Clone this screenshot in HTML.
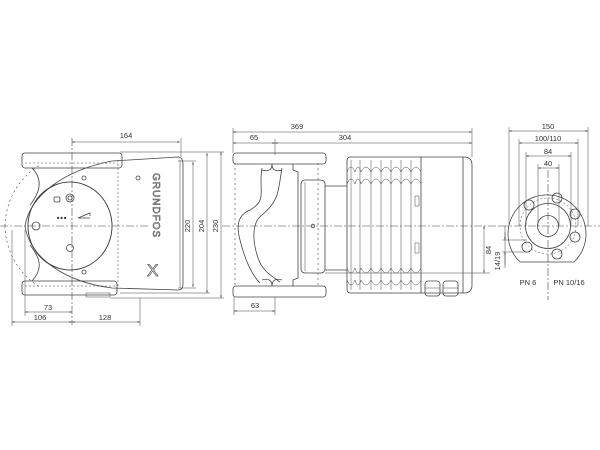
<!DOCTYPE html>
<html><head><meta charset="utf-8"><style>
html,body{margin:0;padding:0;background:#fff;}
svg{display:block;}
text{font-family:"Liberation Sans",sans-serif;font-size:7.5px;fill:#333;}
</style></head><body>
<svg width="600" height="450" viewBox="0 0 600 450" xmlns="http://www.w3.org/2000/svg">
<defs>
<marker id="a" viewBox="0 0 10 10" refX="10" refY="5" markerWidth="5" markerHeight="5" orient="auto-start-reverse"><path d="M0,2 L10,5 L0,8 z" fill="#333"/></marker>
</defs>
<g fill="none" stroke="#444" stroke-width="0.8">
<!-- center lines -->
<line x1="0" y1="226" x2="148" y2="226" stroke-dasharray="8,2,2,2" stroke-width="0.6"/>
<line x1="222" y1="226" x2="500" y2="226" stroke-dasharray="8,2,2,2" stroke-width="0.6"/>
<line x1="500" y1="226" x2="600" y2="226" stroke-dasharray="8,2,2,2" stroke-width="0.6"/>
<line x1="72" y1="138" x2="72" y2="325" stroke-dasharray="8,2,2,2" stroke-width="0.6"/>
<line x1="548" y1="170" x2="548" y2="300" stroke-dasharray="8,2,2,2" stroke-width="0.6"/>

<!-- VIEW 1 -->
<path d="M5,226 A70,72 0 0 1 40,165" stroke-dasharray="2,3" stroke-width="0.6"/>
<path d="M5,226 A70,72 0 0 0 40,287" stroke-dasharray="2,3" stroke-width="0.6"/>
<rect x="22" y="153" width="100" height="15" rx="3"/>
<line x1="25" y1="163" x2="118" y2="163" stroke-dasharray="2,2" stroke-width="0.5"/>
<rect x="22" y="281" width="95" height="14" rx="3"/>
<line x1="25" y1="286" x2="115" y2="286" stroke-dasharray="2,2" stroke-width="0.5"/>
<path d="M32,168 C42,178 42,190 30,205 M32,281 C42,270 42,260 30,245"/>
<!-- housing -->
<path d="M178,157 L112,161 C65,170 30,195 25,226 C30,258 65,282 112,288 L178,290 C182,290 183,287 183,284 L183,164 C183,160 181,157 178,157 Z"/>
<path d="M180,160 L180,288" stroke-width="0.5"/>
<line x1="118" y1="160" x2="118" y2="288" stroke-dasharray="2,2" stroke-width="0.5"/>
<path d="M70,182 A42,44 0 0 1 70,270 L70,270 C50,270 28,252 28,226 C28,200 50,182 70,182" />
<ellipse cx="70" cy="226" rx="42" ry="44"/>
<circle cx="36" cy="226" r="4"/>
<circle cx="70" cy="198" r="4"/><circle cx="70" cy="198" r="2"/>
<rect x="54" y="197" width="6" height="5" rx="1.5"/>
<circle cx="70" cy="248" r="3.5"/>
<circle cx="84" cy="178" r="2"/><circle cx="138" cy="178" r="2"/><circle cx="84" cy="272" r="2"/>
<path d="M78,218 L90,213 L90,216 M78,218 L90,218"/>
<path d="M86,293 L110,293 L110,297 L86,297 Z" stroke-width="0.5"/>
<!-- dims view1 -->
<line x1="72" y1="142" x2="180" y2="142" marker-start="url(#a)" marker-end="url(#a)" stroke-width="0.5"/>
<line x1="181" y1="138" x2="181" y2="157" stroke-width="0.5"/>
<line x1="193" y1="162" x2="193" y2="287" marker-start="url(#a)" marker-end="url(#a)" stroke-width="0.5"/>
<line x1="207" y1="153" x2="207" y2="293" marker-start="url(#a)" marker-end="url(#a)" stroke-width="0.5"/>
<line x1="221" y1="152" x2="221" y2="298" marker-start="url(#a)" marker-end="url(#a)" stroke-width="0.5"/>
<line x1="120" y1="152" x2="224" y2="152" stroke-width="0.5"/>
<line x1="178" y1="161" x2="196" y2="161" stroke-width="0.5"/>
<line x1="178" y1="288" x2="196" y2="288" stroke-width="0.5"/>
<line x1="120" y1="293" x2="210" y2="293" stroke-width="0.5"/>
<line x1="110" y1="298" x2="224" y2="298" stroke-width="0.5"/>
<line x1="25" y1="230" x2="25" y2="316" stroke-width="0.5"/>
<line x1="12" y1="230" x2="12" y2="326" stroke-width="0.5"/>
<line x1="140" y1="298" x2="140" y2="326" stroke-width="0.5"/>
<line x1="25" y1="312" x2="72" y2="312" marker-start="url(#a)" marker-end="url(#a)" stroke-width="0.5"/>
<line x1="12" y1="322" x2="72" y2="322" marker-start="url(#a)" marker-end="url(#a)" stroke-width="0.5"/>
<line x1="72" y1="322" x2="140" y2="322" marker-start="url(#a)" marker-end="url(#a)" stroke-width="0.5"/>

<!-- VIEW 2 -->
<line x1="235" y1="163" x2="235" y2="287" stroke-dasharray="2,3" stroke-width="0.6"/>
<line x1="318" y1="163" x2="318" y2="287" stroke-dasharray="2,3" stroke-width="0.6"/>
<rect x="233" y="153" width="93" height="11" rx="3"/>
<rect x="233" y="286" width="93" height="11" rx="3"/>
<path d="M272,164 C272,170 276,172 282,170 M272,164 C272,170 268,172 262,170"/>
<path d="M272,286 C272,280 276,278 282,280 M272,286 C272,280 268,278 262,280"/>
<path d="M262,168 C258,190 268,200 250,210 C238,215 236,225 240,240 C245,260 252,275 260,283"/>
<path d="M282,168 C278,190 280,200 262,215 C252,222 252,240 258,258 C262,270 270,275 280,282"/>
<path d="M293,164 L293,170 L298,172 L298,278 L293,280 L293,286"/>
<rect x="301" y="180" width="24" height="93" rx="4"/>
<line x1="305" y1="182" x2="305" y2="271" stroke-width="0.5"/>
<circle cx="313" cy="226" r="1.8"/>
<line x1="325" y1="186" x2="347" y2="186"/>
<line x1="325" y1="270" x2="347" y2="270"/>
<!-- motor -->
<path d="M350,157 L464,157 C470,157 472,160 472,165 L472,285 C472,290 470,293 464,293 L350,293 C348,293 347,291 347,289 L347,161 C347,159 348,157 350,157 Z"/>
<line x1="463" y1="157" x2="463" y2="293"/>
<line x1="421" y1="157" x2="421" y2="293"/>
<g stroke-width="0.5">
<path d="M351,160 L351,290 M360,160 L360,290 M371,160 L371,290 M381,160 L381,290 M391,160 L391,290 M401,160 L401,290 M411,160 L411,290"/>
<path d="M347,172 Q351,162 355,172 Q358,162 361,172 Q366,162 371,172 Q376,162 381,172 Q386,162 391,172 Q396,162 401,172 Q406,162 411,172 Q416,162 421,172"/>
<path d="M347,184 Q351,174 355,184 Q358,174 361,184 Q366,174 371,184 Q376,174 381,184 Q386,174 391,184 Q396,174 401,184 Q406,174 411,184 Q416,174 421,184"/>
<path d="M347,268 Q351,278 355,268 Q358,278 361,268 Q366,278 371,268 Q376,278 381,268 Q386,278 391,268 Q396,278 401,268 Q406,278 411,268 Q416,278 421,268"/>
<path d="M347,280 Q351,290 355,280 Q358,290 361,280 Q366,290 371,280 Q376,290 381,280 Q386,290 391,280 Q396,290 401,280 Q406,290 411,280 Q416,290 421,280"/>
<path d="M415,196 L415,206 L419,206 L419,196 Z M415,243 L415,253 L419,253 L419,243 Z"/>
</g>
<rect x="425" y="281" width="15" height="15" rx="3"/>
<rect x="443" y="281" width="15" height="15" rx="3"/>
<line x1="425" y1="288" x2="440" y2="288" stroke-width="0.5"/>
<line x1="443" y1="288" x2="458" y2="288" stroke-width="0.5"/>
<!-- dims view2 -->
<line x1="233" y1="132" x2="472" y2="132" marker-start="url(#a)" marker-end="url(#a)" stroke-width="0.5"/>
<line x1="233" y1="143" x2="275" y2="143" marker-start="url(#a)" marker-end="url(#a)" stroke-width="0.5"/>
<line x1="275" y1="143" x2="472" y2="143" marker-start="url(#a)" marker-end="url(#a)" stroke-width="0.5"/>
<line x1="233" y1="128" x2="233" y2="153" stroke-width="0.5"/>
<line x1="472" y1="128" x2="472" y2="157" stroke-width="0.5"/>
<line x1="275" y1="139" x2="275" y2="155" stroke-width="0.5"/>
<line x1="234" y1="297" x2="234" y2="315" stroke-width="0.5"/>
<line x1="275" y1="297" x2="275" y2="315" stroke-width="0.5"/>
<line x1="234" y1="311" x2="275" y2="311" marker-start="url(#a)" marker-end="url(#a)" stroke-width="0.5"/>
<line x1="325" y1="273" x2="490" y2="273" stroke-width="0.5"/>
<line x1="484" y1="226" x2="484" y2="273" marker-start="url(#a)" marker-end="url(#a)" stroke-width="0.5"/>

<!-- VIEW 3 -->
<path d="M520,262 A39,39 0 1 1 574,262 Z"/>
<circle cx="548" cy="226" r="22.5"/>
<circle cx="548" cy="226" r="10.5"/>
<circle cx="548" cy="226" r="28" stroke-dasharray="2,2" stroke-width="0.5"/>
<circle cx="557" cy="198" r="5"/><circle cx="575" cy="214" r="5"/><circle cx="575" cy="237" r="5"/>
<circle cx="557" cy="254" r="5"/><circle cx="527" cy="247" r="5"/><circle cx="529" cy="205" r="5"/>
<line x1="509" y1="131" x2="588" y2="131" marker-start="url(#a)" marker-end="url(#a)" stroke-width="0.5"/>
<line x1="519" y1="143" x2="578" y2="143" marker-start="url(#a)" marker-end="url(#a)" stroke-width="0.5"/>
<line x1="526" y1="156" x2="571" y2="156" marker-start="url(#a)" marker-end="url(#a)" stroke-width="0.5"/>
<line x1="538" y1="168" x2="559" y2="168" marker-start="url(#a)" marker-end="url(#a)" stroke-width="0.5"/>
<g stroke-width="0.5">
<line x1="509" y1="127" x2="509" y2="226"/><line x1="588" y1="127" x2="588" y2="226"/>
<line x1="519" y1="139" x2="519" y2="226"/><line x1="578" y1="139" x2="578" y2="226"/>
<line x1="526" y1="152" x2="526" y2="226"/><line x1="571" y1="152" x2="571" y2="226"/>
<line x1="538" y1="164" x2="538" y2="226"/><line x1="559" y1="164" x2="559" y2="226"/>
<line x1="505" y1="226" x2="505" y2="268"/>
<line x1="505" y1="232" x2="505" y2="240" marker-end="url(#a)"/>
<line x1="505" y1="265" x2="505" y2="252" marker-end="url(#a)"/>
<line x1="502" y1="240" x2="527" y2="240"/><line x1="502" y1="252" x2="527" y2="252"/>
</g>
</g>
<!-- texts -->
<text x="126" y="138" text-anchor="middle">164</text>
<text x="297" y="129" text-anchor="middle">369</text>
<text x="254" y="140" text-anchor="middle">65</text>
<text x="345" y="140" text-anchor="middle">304</text>
<text x="548" y="129" text-anchor="middle">150</text>
<text x="548" y="141" text-anchor="middle">100/110</text>
<text x="548" y="154" text-anchor="middle">84</text>
<text x="548" y="166" text-anchor="middle">40</text>
<text x="48" y="310" text-anchor="middle">73</text>
<text x="40" y="320" text-anchor="middle">106</text>
<text x="105" y="320" text-anchor="middle">128</text>
<text x="255" y="308" text-anchor="middle">63</text>
<text x="528" y="285" text-anchor="middle">PN 6</text>
<text x="569" y="285" text-anchor="middle">PN 10/16</text>
<text transform="translate(190,226) rotate(-90)" text-anchor="middle">220</text>
<text transform="translate(204,226) rotate(-90)" text-anchor="middle">204</text>
<text transform="translate(218,226) rotate(-90)" text-anchor="middle">230</text>
<text transform="translate(491,250) rotate(-90)" text-anchor="middle">84</text>
<text transform="translate(500,261) rotate(-90)" text-anchor="middle">14/19</text>
<text transform="translate(153,173) rotate(90)" style="font-size:10px;fill:none;stroke:#555;stroke-width:0.6;letter-spacing:1px">GRUNDFOS</text>
<text x="147" y="276" style="font-size:17px;fill:none;stroke:#555;stroke-width:0.7">X</text>
<text x="57" y="219" style="font-size:4px">■ ■ ■</text>
</svg>
</body></html>
